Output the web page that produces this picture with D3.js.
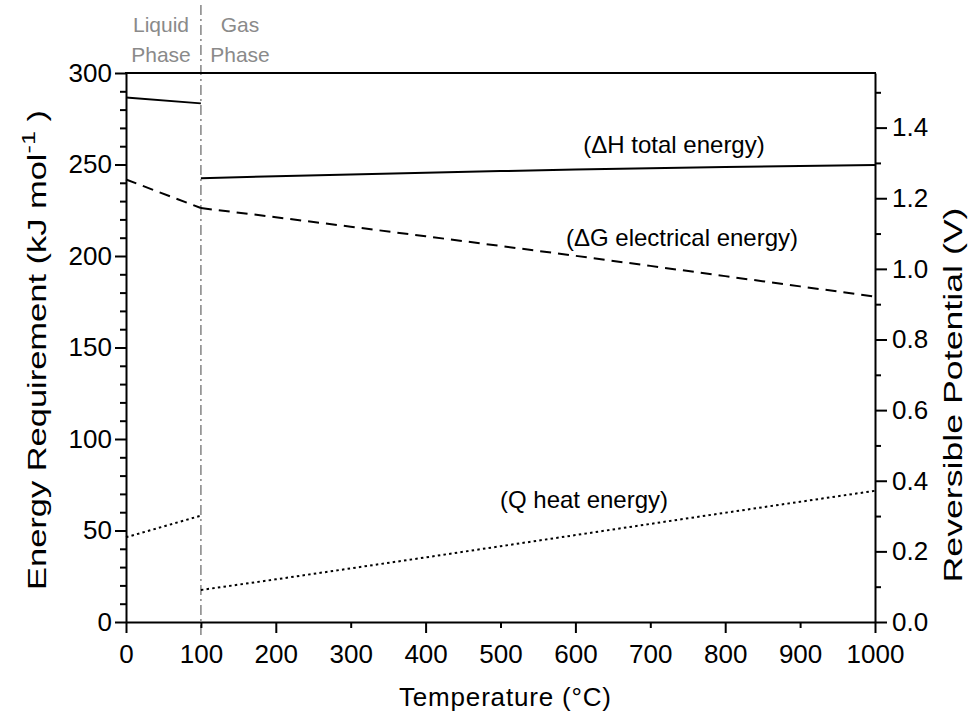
<!DOCTYPE html>
<html lang="en">
<head>
<meta charset="UTF-8">
<title>Energy requirement vs temperature</title>
<script src="https://d3js.org/d3.v7.min.js"></script>
<style>
  body { margin: 0; background: #fff; }
  svg { display: block; font-family: "Liberation Sans", Arial, sans-serif; }
  .axis path, .axis line { stroke: #000; stroke-width: 2; }
  .axis text { font-size: 26px; fill: #000; font-family: "Liberation Sans", Arial, sans-serif; }
  .series { fill: none; stroke: #000; stroke-width: 2; }
  .phase { font-size: 21px; fill: #8a8a8a; }
  .note { font-size: 24px; fill: #000; }
  .title { font-size: 26px; fill: #000; }
</style>
</head>
<body>
<script>
// temperatures (°C) for each phase
const tempLiquid = [0, 100];
const tempGas = [100, 200, 300, 400, 500, 600, 700, 800, 900, 1000];

// kJ/mol
const dHLiquid = [286.6, 283.4];
const dGLiquid = [241.8, 226.2];
const qLiquid = [46.3, 58.1];

const dHGas = [242.5, 243.6, 244.6, 245.5, 246.4, 247.2, 247.9, 248.6, 249.2, 249.7];
const dGGas = [226.2, 221.2, 216.0, 210.8, 205.5, 200.1, 194.6, 189.0, 183.4, 177.8];
const qGas = [17.5, 23.3, 29.3, 35.3, 41.4, 47.5, 53.6, 59.7, 65.7, 71.7];

const xTicks = [0, 100, 200, 300, 400, 500, 600, 700, 800, 900, 1000];
const yTicks = [0, 50, 100, 150, 200, 250, 300];
const vTicks = [0.0, 0.2, 0.4, 0.6, 0.8, 1.0, 1.2, 1.4];

const width = 973, height = 717;
const margin = { top: 73, right: 98, bottom: 95, left: 126 };

const svg = d3.select("body").append("svg")
  .attr("width", width)
  .attr("height", height);

const x = d3.scaleLinear().domain([0, 1000]).range([margin.left, width - margin.right]);
const y = d3.scaleLinear().domain([0, 300]).range([height - margin.bottom, margin.top]);
// 300 kJ/mol / (2F) in volts
const yV = d3.scaleLinear().domain([0, 300 / (2 * 96.485)]).range([height - margin.bottom, margin.top]);

// phase boundary
svg.append("line")
  .attr("x1", x(100)).attr("x2", x(100))
  .attr("y1", 5).attr("y2", y(0) + 13)
  .attr("stroke", "#8c8c8c")
  .attr("stroke-width", 1.6)
  .attr("stroke-dasharray", "10,4,2,4");

// phase labels
const phases = [
  { cx: 161, lines: ["Liquid", "Phase"] },
  { cx: 240, lines: ["Gas", "Phase"] }
];
phases.forEach(p => {
  p.lines.forEach((t, i) => {
    svg.append("text").attr("class", "phase")
      .attr("x", p.cx).attr("y", 32 + i * 30)
      .attr("text-anchor", "middle")
      .text(t);
  });
});

// axes
const xAxis = d3.axisBottom(x).tickValues(xTicks).tickFormat(d3.format("d"))
  .tickSize(6).tickSizeOuter(0).tickPadding(17);
const gx = svg.append("g").attr("class", "axis")
  .attr("transform", `translate(0,${y(0)})`)
  .call(xAxis);
gx.selectAll(".tick line").attr("y2", d => d % 200 === 0 ? 11 : 6);

const yAxis = d3.axisLeft(y)
  .tickValues(d3.range(0, 301, 10))
  .tickFormat(d => yTicks.includes(d) ? d : "")
  .tickSize(6).tickSizeOuter(0).tickPadding(8);
const gy = svg.append("g").attr("class", "axis")
  .attr("transform", `translate(${x(0)},0)`)
  .call(yAxis);
gy.selectAll(".tick line").attr("x2", d => yTicks.includes(d) ? -11 : -6);

const vAll = d3.range(0, 16).map(i => i / 10);
const isMajorV = d => vTicks.some(v => Math.abs(v - d) < 1e-9);
const vAxis = d3.axisRight(yV)
  .tickValues(vAll)
  .tickFormat(d => isMajorV(d) ? d3.format(".1f")(d) : "")
  .tickSize(6).tickSizeOuter(0).tickPadding(11);
const gv = svg.append("g").attr("class", "axis")
  .attr("transform", `translate(${x(1000)},0)`)
  .call(vAxis);
gv.selectAll(".tick line").attr("x2", d => isMajorV(d) ? 12 : 6);

// top frame
svg.append("line")
  .attr("x1", x(0) - 1).attr("x2", x(1000) + 1)
  .attr("y1", y(300)).attr("y2", y(300))
  .attr("stroke", "#000").attr("stroke-width", 2);

// series
const line = d3.line().x(d => x(d[0])).y(d => y(d[1]));
const series = [
  { t: tempLiquid, v: dHLiquid, dash: null, w: 2 },
  { t: tempGas, v: dHGas, dash: null, w: 2 },
  { t: tempLiquid, v: dGLiquid, dash: "11,7", w: 2 },
  { t: tempGas, v: dGGas, dash: "11,7", w: 2 },
  { t: tempLiquid, v: qLiquid, dash: "2.5,3.2", w: 2.6 },
  { t: tempGas, v: qGas, dash: "2.5,3.2", w: 2.6 }
];
series.forEach(s => {
  svg.append("path").attr("class", "series")
    .attr("d", line(s.t.map((t, i) => [t, s.v[i]])))
    .attr("stroke-width", s.w)
    .attr("stroke-dasharray", s.dash);
});

// curve labels
const notes = [
  { x: 674, y: 153, text: "(ΔH total energy)" },
  { x: 682, y: 246, text: "(ΔG electrical energy)" },
  { x: 584, y: 508, text: "(Q heat energy)" }
];
notes.forEach(n => {
  svg.append("text").attr("class", "note")
    .attr("x", n.x).attr("y", n.y)
    .attr("text-anchor", "middle")
    .text(n.text);
});

// axis titles
svg.append("text").attr("class", "title")
  .attr("x", 505).attr("y", 706)
  .attr("text-anchor", "middle")
  .attr("textLength", 212)
  .text("Temperature (°C)");

const lt = svg.append("text").attr("class", "title")
  .attr("transform", `translate(46,350) rotate(-90)`)
  .attr("text-anchor", "middle")
  .attr("font-size", 27)
  .attr("textLength", 480)
  .attr("lengthAdjust", "spacingAndGlyphs");
lt.append("tspan").text("Energy Requirement (kJ mol");
lt.append("tspan").attr("dy", -11).attr("font-size", 19).text("-1");
lt.append("tspan").attr("dy", 11).text(" )");

svg.append("text").attr("class", "title")
  .attr("transform", `translate(962,395) rotate(-90)`)
  .attr("text-anchor", "middle")
  .attr("font-size", 27)
  .attr("textLength", 375)
  .attr("lengthAdjust", "spacingAndGlyphs")
  .text("Reversible Potential (V)");
</script>
</body>
</html>
